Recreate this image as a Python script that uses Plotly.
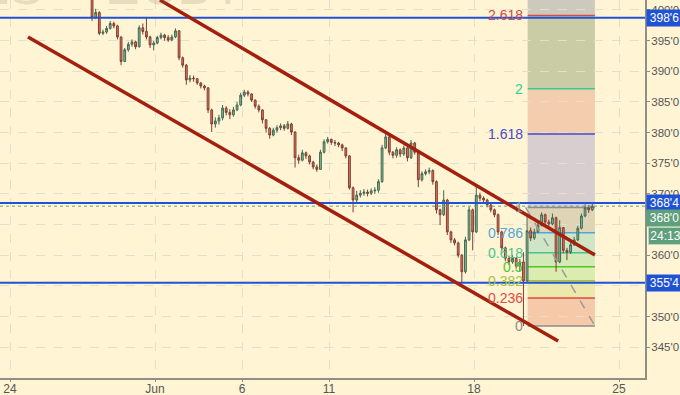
import plotly.graph_objects as go

# ---------------- data ----------------
first_open = 403.5
closes = [398.8, 399.6, 396.2, 396.4, 397.0, 397.8, 397.4, 395.6, 391.6, 393.5,
          394.4, 394.8, 394.0, 397.1, 396.5, 395.6, 394.3, 394.6, 395.5, 395.9,
          395.5, 395.1, 395.6, 396.6, 392.2, 391.0, 388.6, 388.9, 388.8, 388.1,
          387.6, 387.3, 383.7, 381.4, 381.9, 382.4, 384.0, 383.3, 382.9, 383.7,
          384.5, 386.1, 386.6, 386.3, 385.3, 384.3, 383.7, 382.1, 380.7, 379.6,
          380.4, 380.8, 381.1, 380.7, 381.4, 380.1, 375.9, 375.5, 376.7, 376.2,
          375.2, 374.4, 374.0, 376.8, 378.5, 378.9, 378.4, 378.3, 378.0, 377.5,
          376.2, 371.0, 369.0, 369.8, 370.1, 370.3, 370.1, 370.5, 370.6, 372.0,
          377.5, 379.3, 376.8, 376.3, 377.2, 376.5, 377.5, 375.9, 378.3, 376.8,
          372.3, 373.3, 373.6, 373.8, 372.0, 367.4, 366.6, 369.0, 363.8, 362.5,
          362.0, 360.0, 357.3, 362.5, 367.4, 363.8, 369.8, 369.3, 369.0, 368.2,
          367.4, 366.6, 363.8, 361.2, 359.5, 358.9, 359.5, 358.2, 358.9, 355.8,
          364.0, 362.8, 363.8, 364.9, 366.6, 365.4, 365.1, 366.1, 358.9, 364.5,
          360.8, 360.5, 361.7, 362.5, 364.4, 366.4, 367.7, 367.4, 368.0]
highs = [404.0, 400.2, 399.8, 396.8, 397.4, 398.2, 398.1, 397.6, 395.7, 393.8,
         394.8, 395.2, 395.0, 397.5, 397.8, 398.8, 395.8, 395.0, 395.8, 396.3,
         396.1, 395.9, 396.0, 397.0, 396.7, 392.4, 391.2, 389.4, 389.3, 388.9,
         388.2, 387.8, 387.4, 383.9, 382.5, 382.9, 384.5, 384.3, 383.8, 384.2,
         385.0, 386.5, 387.0, 386.9, 386.4, 385.4, 384.6, 383.8, 382.2, 380.9,
         380.8, 381.2, 381.5, 381.4, 381.9, 381.6, 380.2, 376.4, 377.2, 376.9,
         376.4, 375.4, 374.8, 377.2, 378.9, 379.3, 379.0, 378.8, 378.5, 378.2,
         377.6, 376.3, 371.2, 370.5, 370.6, 370.8, 370.7, 370.9, 371.1, 372.4,
         378.0, 379.8, 379.5, 377.0, 377.6, 377.4, 377.9, 377.8, 378.8, 378.5,
         376.9, 373.7, 374.0, 374.3, 374.0, 372.2, 367.6, 370.6, 369.2, 364.0,
         362.8, 362.2, 360.2, 363.0, 367.9, 367.6, 371.5, 370.2, 369.6, 369.2,
         368.5, 367.6, 366.8, 364.0, 361.4, 359.9, 360.0, 359.7, 359.4, 360.5,
         366.8, 364.5, 364.3, 365.4, 367.0, 366.8, 365.8, 366.8, 366.3, 365.7,
         364.6, 361.2, 362.1, 363.0, 364.8, 366.8, 368.3, 368.2, 368.4]
lows = [398.2, 398.5, 395.9, 395.9, 396.1, 396.8, 397.0, 395.2, 391.0, 391.5,
        393.2, 394.0, 393.6, 393.9, 396.0, 395.2, 393.8, 393.4, 394.4, 395.2,
        395.0, 394.8, 394.9, 395.4, 391.8, 390.6, 387.8, 388.2, 388.3, 387.8,
        387.2, 386.9, 383.2, 380.1, 380.8, 381.3, 382.0, 382.8, 382.2, 382.6,
        383.5, 384.3, 385.8, 385.9, 385.0, 383.9, 383.3, 381.5, 380.0, 379.0,
        379.4, 380.0, 380.4, 380.3, 380.5, 379.6, 374.3, 374.9, 375.3, 375.7,
        374.8, 374.0, 373.6, 373.9, 376.6, 378.2, 378.0, 377.8, 377.6, 377.0,
        375.8, 370.7, 367.0, 368.6, 369.4, 369.7, 369.6, 369.8, 370.0, 370.2,
        371.8, 377.3, 376.3, 375.8, 375.9, 376.0, 376.2, 375.3, 375.7, 376.4,
        371.1, 372.0, 373.0, 373.2, 371.5, 366.8, 364.9, 366.4, 363.3, 362.0,
        361.6, 359.6, 355.5, 357.0, 362.3, 360.8, 363.6, 368.8, 368.5, 367.8,
        367.0, 366.2, 363.3, 360.7, 359.0, 358.4, 358.6, 357.8, 357.3, 348.45,
        355.5, 362.3, 362.5, 363.6, 364.7, 365.0, 364.7, 364.9, 357.3, 358.7,
        360.3, 359.2, 360.2, 361.5, 362.3, 364.2, 366.2, 366.9, 367.2]
opens = [first_open] + closes[:-1]

first_bar_day = 2.83      # trading-day index of first visible bar (24 May = 0)
bars_per_day = 8
bar_days = [first_bar_day + i / bars_per_day for i in range(len(closes))]

tick_days = [0, 5, 8, 11, 16, 21]
tick_text = ["24", "Jun", "6", "11", "18", "25"]

price_ticks = [345, 350, 355, 360, 365, 370, 375, 380, 385, 390, 395, 400]
hidden_ticks = [355, 365]

hlines = [398.75, 368.5, 355.5]
hline_labels = ["398'6", "368'4", "355'4"]
last_price = 368.0
last_label = "368'0"
countdown = "24:13"

upper_channel = [(5.17, 401.63), (20.17, 360.03)]
lower_channel = [(0.62, 395.6), (18.9, 346.0)]

fib_low = 348.45
fib_high = 367.8
fib_start = 17.85
fib_end = 20.17
fib_levels = [0, 0.236, 0.382, 0.5, 0.618, 0.786, 1, 1.618, 2, 2.618, 3.618]
fib_names = ["0", "0.236", "0.382", "0.5", "0.618", "0.786", "1", "1.618", "2", "2.618", "3.618"]
fib_line_colors = ["#8c8c8c", "#dc4b44", "#a3c53c", "#4fc62c", "#3fc98f", "#4ea6dc",
                   "#8c8c8c", "#4a4ad0", "#2fd092", "#d24a4a", "#9c27b0"]
fib_fill_colors = ["#f6c9a8", "#ece9ab", "#dcebae", "#d3e9b6", "#cfe5c5", "#dfd5b6",
                   "#d8cecf", "#f4cdaf", "#cacca6", "#cdcabd"]

# ---------------- figure ----------------
BG = "#fff4d3"
BLUE = "#1f52d4"
GREEN_BOX = "#5f9f7c"
FONT = "Liberation Sans, Arial, sans-serif"

fig = go.Figure()

fig.add_trace(go.Candlestick(
    x=bar_days, open=opens, high=highs, low=lows, close=closes,
    increasing=dict(line=dict(color="#466552", width=1), fillcolor="#7cc596"),
    decreasing=dict(line=dict(color="#7a4034", width=1), fillcolor="#ef6f58"),
    whiskerwidth=0, showlegend=False, hoverinfo="skip",
))

shapes = []
for k in range(len(fib_levels) - 1):
    y0 = fib_low + fib_levels[k] * (fib_high - fib_low)
    y1 = fib_low + fib_levels[k + 1] * (fib_high - fib_low)
    shapes.append(dict(type="rect", xref="x", yref="y", x0=fib_start, x1=fib_end,
                       y0=y0, y1=y1, fillcolor=fib_fill_colors[k],
                       line=dict(width=0), layer="below"))
annotations = []
for k in range(len(fib_levels) - 1):
    yv = fib_low + fib_levels[k] * (fib_high - fib_low)
    shapes.append(dict(type="line", xref="x", yref="y", x0=fib_start, x1=fib_end,
                       y0=yv, y1=yv, line=dict(color=fib_line_colors[k], width=1.5),
                       layer="below"))
    annotations.append(dict(x=fib_start, y=yv, xref="x", yref="y", text=fib_names[k],
                            showarrow=False, xanchor="right", yanchor="middle",
                            xshift=-3, font=dict(family=FONT, size=14,
                                                 color=fib_line_colors[k])))
shapes.append(dict(type="line", xref="x", yref="y", x0=fib_start - 0.07, y0=fib_high,
                   x1=fib_end, y1=fib_low, line=dict(color="#9a9a9a", width=1.5, dash="dash")))

for v in hlines:
    shapes.append(dict(type="line", xref="paper", yref="y", x0=0, x1=1, y0=v, y1=v,
                       line=dict(color=BLUE, width=2)))
shapes.append(dict(type="line", xref="paper", yref="y", x0=0, x1=1, y0=last_price,
                   y1=last_price, line=dict(color="#6aa383", width=1, dash="dot")))

for (a, b) in (upper_channel, lower_channel):
    shapes.append(dict(type="line", xref="x", yref="y", x0=a[0], y0=a[1], x1=b[0], y1=b[1],
                       line=dict(color="#a4200e", width=3.5)))

for v, t in zip(hlines, hline_labels):
    annotations.append(dict(xref="paper", yref="y", x=1, y=v, text=t, showarrow=False,
                            xanchor="left", yanchor="middle", xshift=1, width=33, height=14,
                            bgcolor=BLUE, font=dict(family=FONT, size=12, color="white")))
annotations.append(dict(xref="paper", yref="y", x=1, y=last_price, text=last_label,
                        showarrow=False, xanchor="left", yanchor="middle", xshift=1,
                        yshift=-12, width=33, height=14, bgcolor=GREEN_BOX,
                        font=dict(family=FONT, size=12, color="white")))
annotations.append(dict(xref="paper", yref="y", x=1, y=last_price, text=countdown,
                        showarrow=False, xanchor="left", yanchor="middle", xshift=3,
                        yshift=-30, width=31, height=14, bgcolor=GREEN_BOX,
                        bordercolor="#b8d8c4", borderwidth=1,
                        font=dict(family=FONT, size=12, color="white")))

annotations.append(dict(xref="paper", yref="paper", x=0.07, y=0.955, text="ZS",
                        showarrow=False, xanchor="right", yanchor="bottom",
                        font=dict(family=FONT, size=52, color="rgba(120,110,90,0.18)")))
annotations.append(dict(xref="paper", yref="paper", x=0.16, y=0.955, text="ECBT",
                        showarrow=False, xanchor="left", yanchor="bottom",
                        font=dict(family=FONT, size=52, color="rgba(120,110,90,0.18)")))

fig.update_layout(
    width=680, height=395,
    margin=dict(l=0, r=35, t=0, b=17, autoexpand=False),
    paper_bgcolor=BG, plot_bgcolor=BG,
    shapes=shapes, annotations=annotations,
    showlegend=False,
    xaxis=dict(range=[-10 / 29, 635 / 29], tickvals=tick_days, ticktext=tick_text,
               showgrid=True, gridcolor="#e4dfcc", griddash="dash", gridwidth=1,
               zeroline=False, showline=True, linecolor="#8f8f85", linewidth=2,
               ticks="outside", ticklen=2, tickcolor="#8f8f85", automargin=False,
               ticklabelstandoff=-3,
               tickfont=dict(family=FONT, size=12, color="#555555"),
               rangeslider=dict(visible=False), fixedrange=True),
    yaxis=dict(range=[339.97, 401.63], side="right", tickvals=price_ticks,
               ticktext=["" if p in hidden_ticks else f"{p}'0" for p in price_ticks],
               showgrid=True, gridcolor="#e4dfcc", griddash="dash", gridwidth=1,
               zeroline=False, showline=True, linecolor="#8f8f85", linewidth=2,
               ticks="outside", ticklen=3, tickcolor="#8f8f85", automargin=False,
               ticklabelstandoff=-1,
               tickfont=dict(family=FONT, size=11.5, color="#555555"), fixedrange=True),
)

fig.write_html("out.html", config={"displayModeBar": False},
               post_script="document.body.style.margin='0';"
                           "document.body.style.background='" + BG + "';")
